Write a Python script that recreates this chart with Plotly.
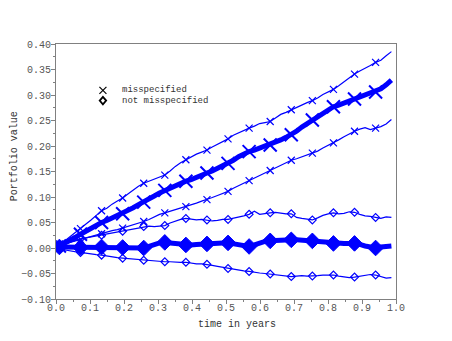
import plotly.graph_objects as go

# time grid: markers every 4th point
t = [round(0.01 + 0.0155 * i, 4) for i in range(64)]

missp_upper = [
    0.008, 0.014, 0.022, 0.030, 0.038, 0.046, 0.055, 0.064,
    0.073, 0.078, 0.086, 0.092, 0.098, 0.106, 0.114, 0.121,
    0.127, 0.131, 0.136, 0.139, 0.143, 0.151, 0.160, 0.167,
    0.173, 0.178, 0.184, 0.188, 0.192, 0.198, 0.203, 0.209,
    0.214, 0.221, 0.226, 0.231, 0.235, 0.239, 0.244, 0.246,
    0.248, 0.255, 0.262, 0.266, 0.271, 0.276, 0.280, 0.285,
    0.289, 0.294, 0.301, 0.306, 0.311, 0.318, 0.326, 0.334,
    0.341, 0.347, 0.352, 0.358, 0.364, 0.368, 0.377, 0.385,
]
missp_mean = [
    0.004, 0.009, 0.015, 0.021, 0.027, 0.033, 0.039, 0.045,
    0.050, 0.054, 0.059, 0.063, 0.067, 0.073, 0.079, 0.085,
    0.090, 0.096, 0.102, 0.108, 0.113, 0.117, 0.122, 0.127,
    0.131, 0.134, 0.139, 0.143, 0.147, 0.151, 0.156, 0.161,
    0.166, 0.172, 0.179, 0.185, 0.189, 0.192, 0.196, 0.199,
    0.202, 0.207, 0.212, 0.217, 0.222, 0.229, 0.237, 0.244,
    0.251, 0.258, 0.265, 0.271, 0.277, 0.280, 0.284, 0.288,
    0.292, 0.295, 0.299, 0.302, 0.306, 0.312, 0.320, 0.329,
]
missp_lower = [
    0.005, 0.008, 0.011, 0.014, 0.017, 0.020, 0.022, 0.025,
    0.028, 0.031, 0.034, 0.036, 0.039, 0.042, 0.046, 0.049,
    0.052, 0.056, 0.061, 0.066, 0.069, 0.072, 0.075, 0.078,
    0.081, 0.085, 0.088, 0.092, 0.095, 0.099, 0.103, 0.107,
    0.111, 0.117, 0.122, 0.127, 0.132, 0.137, 0.142, 0.147,
    0.152, 0.157, 0.162, 0.167, 0.172, 0.175, 0.179, 0.183,
    0.186, 0.190, 0.196, 0.201, 0.206, 0.212, 0.218, 0.224,
    0.229, 0.233, 0.236, 0.232, 0.235, 0.238, 0.243, 0.252,
]
ok_upper = [
    0.004, 0.008, 0.012, 0.015, 0.018, 0.020, 0.022, 0.024,
    0.025, 0.027, 0.029, 0.031, 0.033, 0.035, 0.038, 0.040,
    0.042, 0.043, 0.042, 0.043, 0.044, 0.049, 0.053, 0.056,
    0.058, 0.056, 0.055, 0.056, 0.055, 0.053, 0.054, 0.056,
    0.056, 0.058, 0.061, 0.063, 0.066, 0.072, 0.066, 0.068,
    0.069, 0.070, 0.068, 0.067, 0.067, 0.060, 0.058, 0.057,
    0.055, 0.059, 0.064, 0.067, 0.069, 0.067, 0.068, 0.071,
    0.070, 0.066, 0.063, 0.062, 0.060, 0.058, 0.061, 0.060,
]
ok_mean = [
    0.002, 0.002, 0.001, 0.001, 0.001, 0.001, 0.002, 0.002,
    0.002, 0.002, 0.001, 0.001, 0.001, 0.000, 0.000, 0.000,
    0.000, 0.003, 0.007, 0.010, 0.011, 0.010, 0.008, 0.007,
    0.006, 0.006, 0.007, 0.008, 0.008, 0.008, 0.009, 0.010,
    0.010, 0.008, 0.006, 0.004, 0.003, 0.006, 0.010, 0.013,
    0.014, 0.015, 0.015, 0.016, 0.016, 0.016, 0.015, 0.014,
    0.014, 0.012, 0.011, 0.010, 0.009, 0.009, 0.009, 0.009,
    0.009, 0.007, 0.004, 0.002, 0.000, 0.002, 0.004, 0.004,
]
ok_lower = [
    -0.002, -0.004, -0.006, -0.008, -0.009, -0.010, -0.012, -0.013,
    -0.014, -0.016, -0.017, -0.019, -0.020, -0.021, -0.022, -0.023,
    -0.024, -0.025, -0.026, -0.026, -0.027, -0.027, -0.028, -0.028,
    -0.028, -0.030, -0.031, -0.031, -0.032, -0.034, -0.036, -0.038,
    -0.040, -0.042, -0.043, -0.045, -0.046, -0.048, -0.049, -0.050,
    -0.051, -0.053, -0.054, -0.055, -0.056, -0.055, -0.054, -0.055,
    -0.055, -0.054, -0.053, -0.053, -0.053, -0.055, -0.057, -0.058,
    -0.057, -0.055, -0.053, -0.052, -0.053, -0.056, -0.059, -0.058,
]

legend_labels = ["misspecified", "not misspecified"]
x_title = "time in years"
y_title = "Portfolio value"

BLUE = "#0000FF"
MONO = "Liberation Mono, Courier New, monospace"

fig = go.Figure()

series = [
    (missp_upper, 1.2, "x-thin", 7, 1.2),
    (missp_mean, 5, "x-thin", 13, 2),
    (missp_lower, 1.2, "x-thin", 7, 1.2),
    (ok_upper, 1.2, "diamond-open", 6, 1.2),
    (ok_mean, 5, "diamond", 12, 1),
    (ok_lower, 1.2, "diamond-open", 6, 1.2),
]

for vals, lw, sym, msize, mlw in series:
    fig.add_trace(go.Scatter(
        x=t, y=vals, mode="lines", line=dict(color=BLUE, width=lw),
        showlegend=False, hoverinfo="skip"))
    fig.add_trace(go.Scatter(
        x=t[::4], y=vals[::4], mode="markers",
        marker=dict(symbol=sym, size=msize, color=BLUE,
                    line=dict(color=BLUE, width=mlw)),
        showlegend=False, hoverinfo="skip"))

axis_common = dict(
    showline=True, linecolor="#808080", linewidth=1, mirror=True,
    ticks="outside", tickcolor="#808080", ticklen=4, tickwidth=1,
    showgrid=False, zeroline=False, automargin=False,
    tickfont=dict(family=MONO, size=10, color="#555555"),
)

fig.update_xaxes(
    range=[0, 1.0], dtick=0.1, tick0=0, tickformat=".1f",
    minor=dict(ticks="outside", ticklen=2, dtick=0.05, tickcolor="#808080"),
    ticklabelstandoff=-5,
    **axis_common)
fig.update_yaxes(
    range=[-0.10, 0.40], dtick=0.05, tick0=0, tickformat=".2f",
    minor=dict(ticks="outside", ticklen=2, dtick=0.025, tickcolor="#808080"),
    ticklabelstandoff=-2,
    **axis_common)

# axis titles
fig.add_annotation(x=0.532, y=-0.099, xref="paper", yref="paper",
                   text=x_title, showarrow=False, xanchor="center", yanchor="middle",
                   font=dict(family=MONO, size=10, color="#333333"))
fig.add_annotation(x=-0.12, y=0.561, xref="paper", yref="paper",
                   text=y_title, showarrow=False, xanchor="center", yanchor="middle",
                   textangle=-90,
                   font=dict(family=MONO, size=10, color="#333333"))

# legend drawn in plot-area (paper) coordinates
lx, ly1, ly2 = 0.138, 0.818, 0.778
hw, hh = 0.0103, 0.0137
fig.add_shape(type="line", xref="paper", yref="paper",
              x0=lx - hw, y0=ly1 - hh, x1=lx + hw, y1=ly1 + hh,
              line=dict(color="black", width=1.2))
fig.add_shape(type="line", xref="paper", yref="paper",
              x0=lx - hw, y0=ly1 + hh, x1=lx + hw, y1=ly1 - hh,
              line=dict(color="black", width=1.2))
dw, dh = 0.0095, 0.0145
fig.add_shape(type="path", xref="paper", yref="paper",
              path=f"M {lx - dw} {ly2} L {lx} {ly2 + dh} L {lx + dw} {ly2} L {lx} {ly2 - dh} Z",
              line=dict(color="black", width=1.8))
for lab, yy in zip(legend_labels, [ly1, ly2]):
    fig.add_annotation(x=0.188, y=yy, xref="paper", yref="paper",
                       text=lab, showarrow=False, xanchor="left", yanchor="middle",
                       font=dict(family=MONO, size=9, color="#333333"))

fig.update_layout(
    width=444, height=333,
    margin=dict(l=48, r=56, t=36, b=42),
    paper_bgcolor="white", plot_bgcolor="white",
    showlegend=False,
)

fig.write_html("out.html")
